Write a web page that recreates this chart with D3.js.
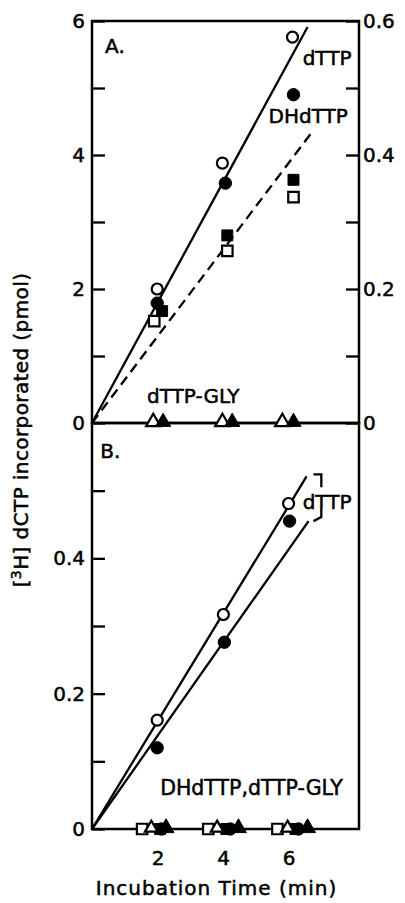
<!DOCTYPE html>
<html>
<head>
  <meta charset="UTF-8">
  <title>dCTP incorporation</title>
  <style type="text/css">
    body { margin: 0; background: #fff; }
    svg { font-family: "DejaVu Sans", sans-serif; }
    .frame { fill: none; stroke: #000; stroke-width: 2.5px; }
    .fit { fill: none; stroke: #000; stroke-width: 2.3px; }
    .axis path { display: none; }
    .axis line { stroke: #000; stroke-width: 2.3px; }
    .axis text, .lbl { font-size: 20px; fill: #000; stroke: #000; stroke-width: 0.5px; font-family: "DejaVu Sans", sans-serif; }
  </style>
</head>
<body>
  <div class="svg-zone"></div>
  <script src="https://cdn.jsdelivr.net/npm/d3@7"></script>
  <script type="text/javascript">
    // panel A, pmol (left axis), x = time in min as plotted
    var aOpenCircleX = [1.99, 3.98, 6.12], aOpenCircleY = [2.0, 3.88, 5.76];
    var aFillCircleX = [1.99, 4.07, 6.15], aFillCircleY = [1.79, 3.58, 4.9];
    var aFillSquareX = [2.14, 4.13, 6.15], aFillSquareY = [1.67, 2.8, 3.63];
    var aOpenSquareX = [1.9, 4.13, 6.15], aOpenSquareY = [1.52, 2.57, 3.37];
    var aOpenTriX = [1.87, 3.98, 5.81], aFillTriX = [2.17, 4.28, 6.15];
    var aSolidLine = [[0, 0], [6.58, 5.91]];
    var aDashLine = [[0, 0], [6.76, 4.37]];

    // panel B
    var bOpenCircleX = [1.99, 4.01, 6.0], bOpenCircleY = [0.161, 0.317, 0.481];
    var bFillCircleX = [1.99, 4.04, 6.03], bFillCircleY = [0.12, 0.276, 0.455];
    var bUpperLine = [[0, 0], [6.55, 0.521]];
    var bLowerLine = [[0, 0], [6.61, 0.455]];
    var bOpenSquareX = [1.53, 3.55, 5.66];
    var bOpenTriX = [1.81, 3.82, 5.97];
    var bFillSquareX = [2.08, 4.1, 6.21];
    var bFillCircleZeroX = [2.12, 4.22, 6.3];
    var bFillTriX = [2.26, 4.47, 6.58];
    var bBracket = [[[6.76, 0.524], [7.0, 0.524], [7.0, 0.505]], [[7.0, 0.473], [7.0, 0.461], [6.76, 0.455]]];

    var xTicks = [2, 4, 6];
    var aTicks = [0, 1, 2, 3, 4, 5, 6];
    var rTicks = [0, 0.1, 0.2, 0.3, 0.4, 0.5, 0.6];
    var bTicks = [0, 0.1, 0.2, 0.3, 0.4, 0.5];

    var width = 405, height = 903;

    var x = d3.scaleLinear().domain([0, 8.15]).range([92, 359]),
      yA = d3.scaleLinear().domain([0, 6]).range([423, 21]),
      yAr = d3.scaleLinear().domain([0, 0.6]).range([423, 21]),
      yB = d3.scaleLinear().domain([0, 0.6]).range([829, 423]);

    var svg = d3.select(".svg-zone").append("svg")
      .attr("width", width)
      .attr("height", height);

    svg.append("rect").attr("width", width).attr("height", height).attr("fill", "#fff");

    function fmt(d) { return d === 0 ? "0" : d3.format(".1f")(d); }

    // axes
    svg.append("g").attr("class", "axis")
      .attr("transform", "translate(" + x(0) + ",0)")
      .call(d3.axisLeft(yA).tickValues(aTicks).tickSize(-13).tickPadding(7)
        .tickFormat(function (d) { return d % 2 === 0 ? d : ""; }));

    svg.append("g").attr("class", "axis")
      .attr("transform", "translate(" + x(8.15) + ",0)")
      .call(d3.axisRight(yAr).tickValues(rTicks).tickSize(-13).tickPadding(4)
        .tickFormat(function (d) { return Math.round(d * 10) % 2 === 0 ? fmt(d) : ""; }));

    svg.append("g").attr("class", "axis")
      .attr("transform", "translate(" + x(0) + ",0)")
      .call(d3.axisLeft(yB).tickValues(bTicks).tickSize(-13).tickPadding(7)
        .tickFormat(function (d) { return Math.round(d * 10) % 2 === 0 ? fmt(d) : ""; }));

    svg.append("g").attr("class", "axis")
      .attr("transform", "translate(0," + yB(0) + ")")
      .call(d3.axisBottom(x).tickValues(xTicks).tickSize(0).tickPadding(22));

    // frames
    svg.append("rect").attr("class", "frame")
      .attr("x", x(0)).attr("y", yA(6))
      .attr("width", x(8.15) - x(0)).attr("height", yA(0) - yA(6));
    svg.append("rect").attr("class", "frame")
      .attr("x", x(0)).attr("y", yB(0.6))
      .attr("width", x(8.15) - x(0)).attr("height", yB(0) - yB(0.6));

    // fitted lines
    var lineA = d3.line().x(function (d) { return x(d[0]); }).y(function (d) { return yA(d[1]); });
    var lineB = d3.line().x(function (d) { return x(d[0]); }).y(function (d) { return yB(d[1]); });

    svg.append("path").attr("class", "fit").attr("d", lineA(aSolidLine));
    svg.append("path").attr("class", "fit").attr("stroke-dasharray", "10,6").attr("d", lineA(aDashLine));
    svg.append("path").attr("class", "fit").attr("d", lineB(bUpperLine));
    svg.append("path").attr("class", "fit").attr("d", lineB(bLowerLine));
    bBracket.forEach(function (b) {
      svg.append("path").attr("class", "fit").attr("d", lineB(b));
    });

    // markers
    function pairs(xs, ys) { return xs.map(function (v, i) { return [v, ys ? ys[i] : 0]; }); }

    function marks(data, y, type, size, open) {
      svg.append("g").selectAll("path")
        .data(data)
        .enter().append("path")
        .attr("d", d3.symbol().type(type).size(size))
        .attr("transform", function (d) { return "translate(" + x(d[0]) + "," + (y(d[1]) - (type === d3.symbolTriangle ? 1 : 0)) + ")"; })
        .attr("fill", open ? "#fff" : "#000")
        .attr("stroke", "#000")
        .attr("stroke-width", open ? 2.2 : 1);
    }

    marks(pairs(aOpenSquareX, aOpenSquareY), yA, d3.symbolSquare, 110, true);
    marks(pairs(aFillSquareX, aFillSquareY), yA, d3.symbolSquare, 120, false);
    marks(pairs(aFillCircleX, aFillCircleY), yA, d3.symbolCircle, 120, false);
    marks(pairs(aOpenCircleX, aOpenCircleY), yA, d3.symbolCircle, 95, true);
    marks(pairs(aOpenTriX), yA, d3.symbolTriangle, 90, true);
    marks(pairs(aFillTriX), yA, d3.symbolTriangle, 100, false);

    marks(pairs(bFillCircleX, bFillCircleY), yB, d3.symbolCircle, 120, false);
    marks(pairs(bOpenCircleX, bOpenCircleY), yB, d3.symbolCircle, 95, true);
    marks(pairs(bOpenSquareX), yB, d3.symbolSquare, 110, true);
    marks(pairs(bFillSquareX), yB, d3.symbolSquare, 120, false);
    marks(pairs(bFillCircleZeroX), yB, d3.symbolCircle, 120, false);
    marks(pairs(bFillTriX), yB, d3.symbolTriangle, 110, false);
    marks(pairs(bOpenTriX), yB, d3.symbolTriangle, 70, true);

    // labels
    function label(t, px, py, anchor) {
      return svg.append("text").attr("class", "lbl")
        .attr("x", px).attr("y", py)
        .attr("text-anchor", anchor || "start")
        .text(t);
    }

    label("A.", x(0.4), yA(5.52));
    label("dTTP", x(6.43), yA(5.34));
    label("DHdTTP", x(5.39), yA(4.48));
    label("dTTP-GLY", x(1.68), yA(0.3));
    label("B.", x(0.25), yB(0.549));
    label("dTTP", x(6.43), yB(0.473));
    label("DHdTTP,dTTP-GLY", x(2.08), yB(0.05)).style("font-size", "20.5px");

    label("Incubation Time (min)", x(3.8), 895, "middle")
      .style("letter-spacing", "1px");

    var yl = svg.append("text").attr("class", "lbl")
      .attr("transform", "translate(28," + 430 + ") rotate(-90)")
      .attr("text-anchor", "middle")
      .style("letter-spacing", "0.4px");
    yl.append("tspan").text("[");
    yl.append("tspan").attr("dy", -7).style("font-size", "14px").text("3");
    yl.append("tspan").attr("dy", 7).text("H]  dCTP  incorporated  (pmol)");
  </script>
</body>
</html>
